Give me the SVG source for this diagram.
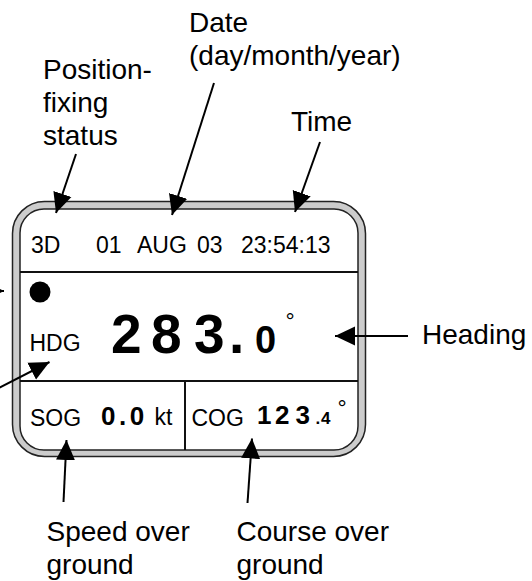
<svg xmlns="http://www.w3.org/2000/svg" width="532" height="581" viewBox="0 0 532 581">
<defs>
<style>
.lbl{font-family:"Liberation Sans",Arial,sans-serif;font-size:28px;fill:#000}
.disp{font-family:"Liberation Sans",Arial,sans-serif;font-size:23px;fill:#000}
.b{font-family:"Liberation Sans",Arial,sans-serif;font-weight:bold;fill:#000}
.conn{stroke:#000;stroke-width:2;fill:none;marker-end:url(#ah)}
.div{stroke:#111;stroke-width:2}
</style>
<marker id="ah" markerUnits="userSpaceOnUse" markerWidth="20" markerHeight="20" refX="20" refY="10" orient="auto">
<path d="M0,0.5 L20,10 L0,19.5 z" fill="#000"/>
</marker>
</defs>
<rect width="532" height="581" fill="#fff"/>
<g id="display">
<rect x="12.5" y="201.5" width="353" height="255" rx="32" fill="#ccc" stroke="#222" stroke-width="1.5"/>
<rect x="20" y="209" width="338" height="241" rx="24" fill="#fff" stroke="#222" stroke-width="1.5"/>
<line class="div" x1="20" y1="272" x2="358" y2="272"/>
<line class="div" x1="20" y1="381" x2="358" y2="381"/>
<line class="div" x1="185" y1="381" x2="185" y2="450"/>
</g>
<g id="status-row">
<text class="disp" x="31" y="253">3D</text>
<text class="disp" x="96" y="253">01</text>
<text class="disp" x="137" y="253">AUG</text>
<text class="disp" x="197" y="253">03</text>
<text class="disp" x="241" y="253">23:54:13</text>
</g>
<g id="heading-row">
<circle cx="40" cy="292" r="10.5" fill="#000"/>
<text class="disp" x="29.5" y="351">HDG</text>
<text class="b" font-size="55" y="352.5"><tspan x="111">2</tspan><tspan x="151">8</tspan><tspan x="194">3</tspan><tspan x="229">.</tspan></text>
<text class="b" font-size="38" x="255" y="352.5">0</text>
<text class="disp" font-size="24" x="285.5" y="328.5">°</text>
</g>
<g id="sog-cell">
<text class="disp" x="30" y="426">SOG</text>
<text class="b" font-size="26" x="101" y="425" letter-spacing="3.5">0.0</text>
<text class="disp" font-size="20" x="154.5" y="425">kt</text>
</g>
<g id="cog-cell">
<text class="disp" x="191.5" y="426">COG</text>
<text class="b" font-size="26" y="423.5"><tspan x="257">1</tspan><tspan x="275">2</tspan><tspan x="295.5">3</tspan></text>
<text class="b" font-size="17" y="423.5"><tspan x="315.5">.</tspan><tspan x="321">4</tspan></text>
<text class="disp" font-size="15" x="337.5" y="416">°</text>
</g>
<g id="label-position">
<text class="lbl" x="43" y="79">Position-</text>
<text class="lbl" x="43" y="112">fixing</text>
<text class="lbl" x="43" y="145">status</text>
</g>
<g id="label-date">
<text class="lbl" x="189" y="32">Date</text>
<text class="lbl" x="189" y="65">(day/month/year)</text>
</g>
<g id="label-time"><text class="lbl" x="291" y="131">Time</text></g>
<g id="label-heading"><text class="lbl" x="422" y="344">Heading</text></g>
<g id="label-sog">
<text class="lbl" x="46.5" y="541">Speed over</text>
<text class="lbl" x="46.5" y="574">ground</text>
</g>
<g id="label-cog">
<text class="lbl" x="236.5" y="541">Course over</text>
<text class="lbl" x="236.5" y="574">ground</text>
</g>
<g id="connectors">
<line class="conn" x1="76" y1="154" x2="56" y2="213"/>
<line class="conn" x1="214" y1="83" x2="172" y2="215"/>
<line class="conn" x1="320" y1="142" x2="295" y2="212"/>
<line class="conn" x1="-40" y1="291" x2="4" y2="291"/>
<line class="conn" x1="-10" y1="392.5" x2="49.5" y2="362"/>
<line class="conn" x1="408" y1="336" x2="335" y2="336"/>
<line class="conn" x1="63.5" y1="502" x2="66.5" y2="440"/>
<line class="conn" x1="247.5" y1="503" x2="252" y2="438.5"/>
</g>
</svg>
